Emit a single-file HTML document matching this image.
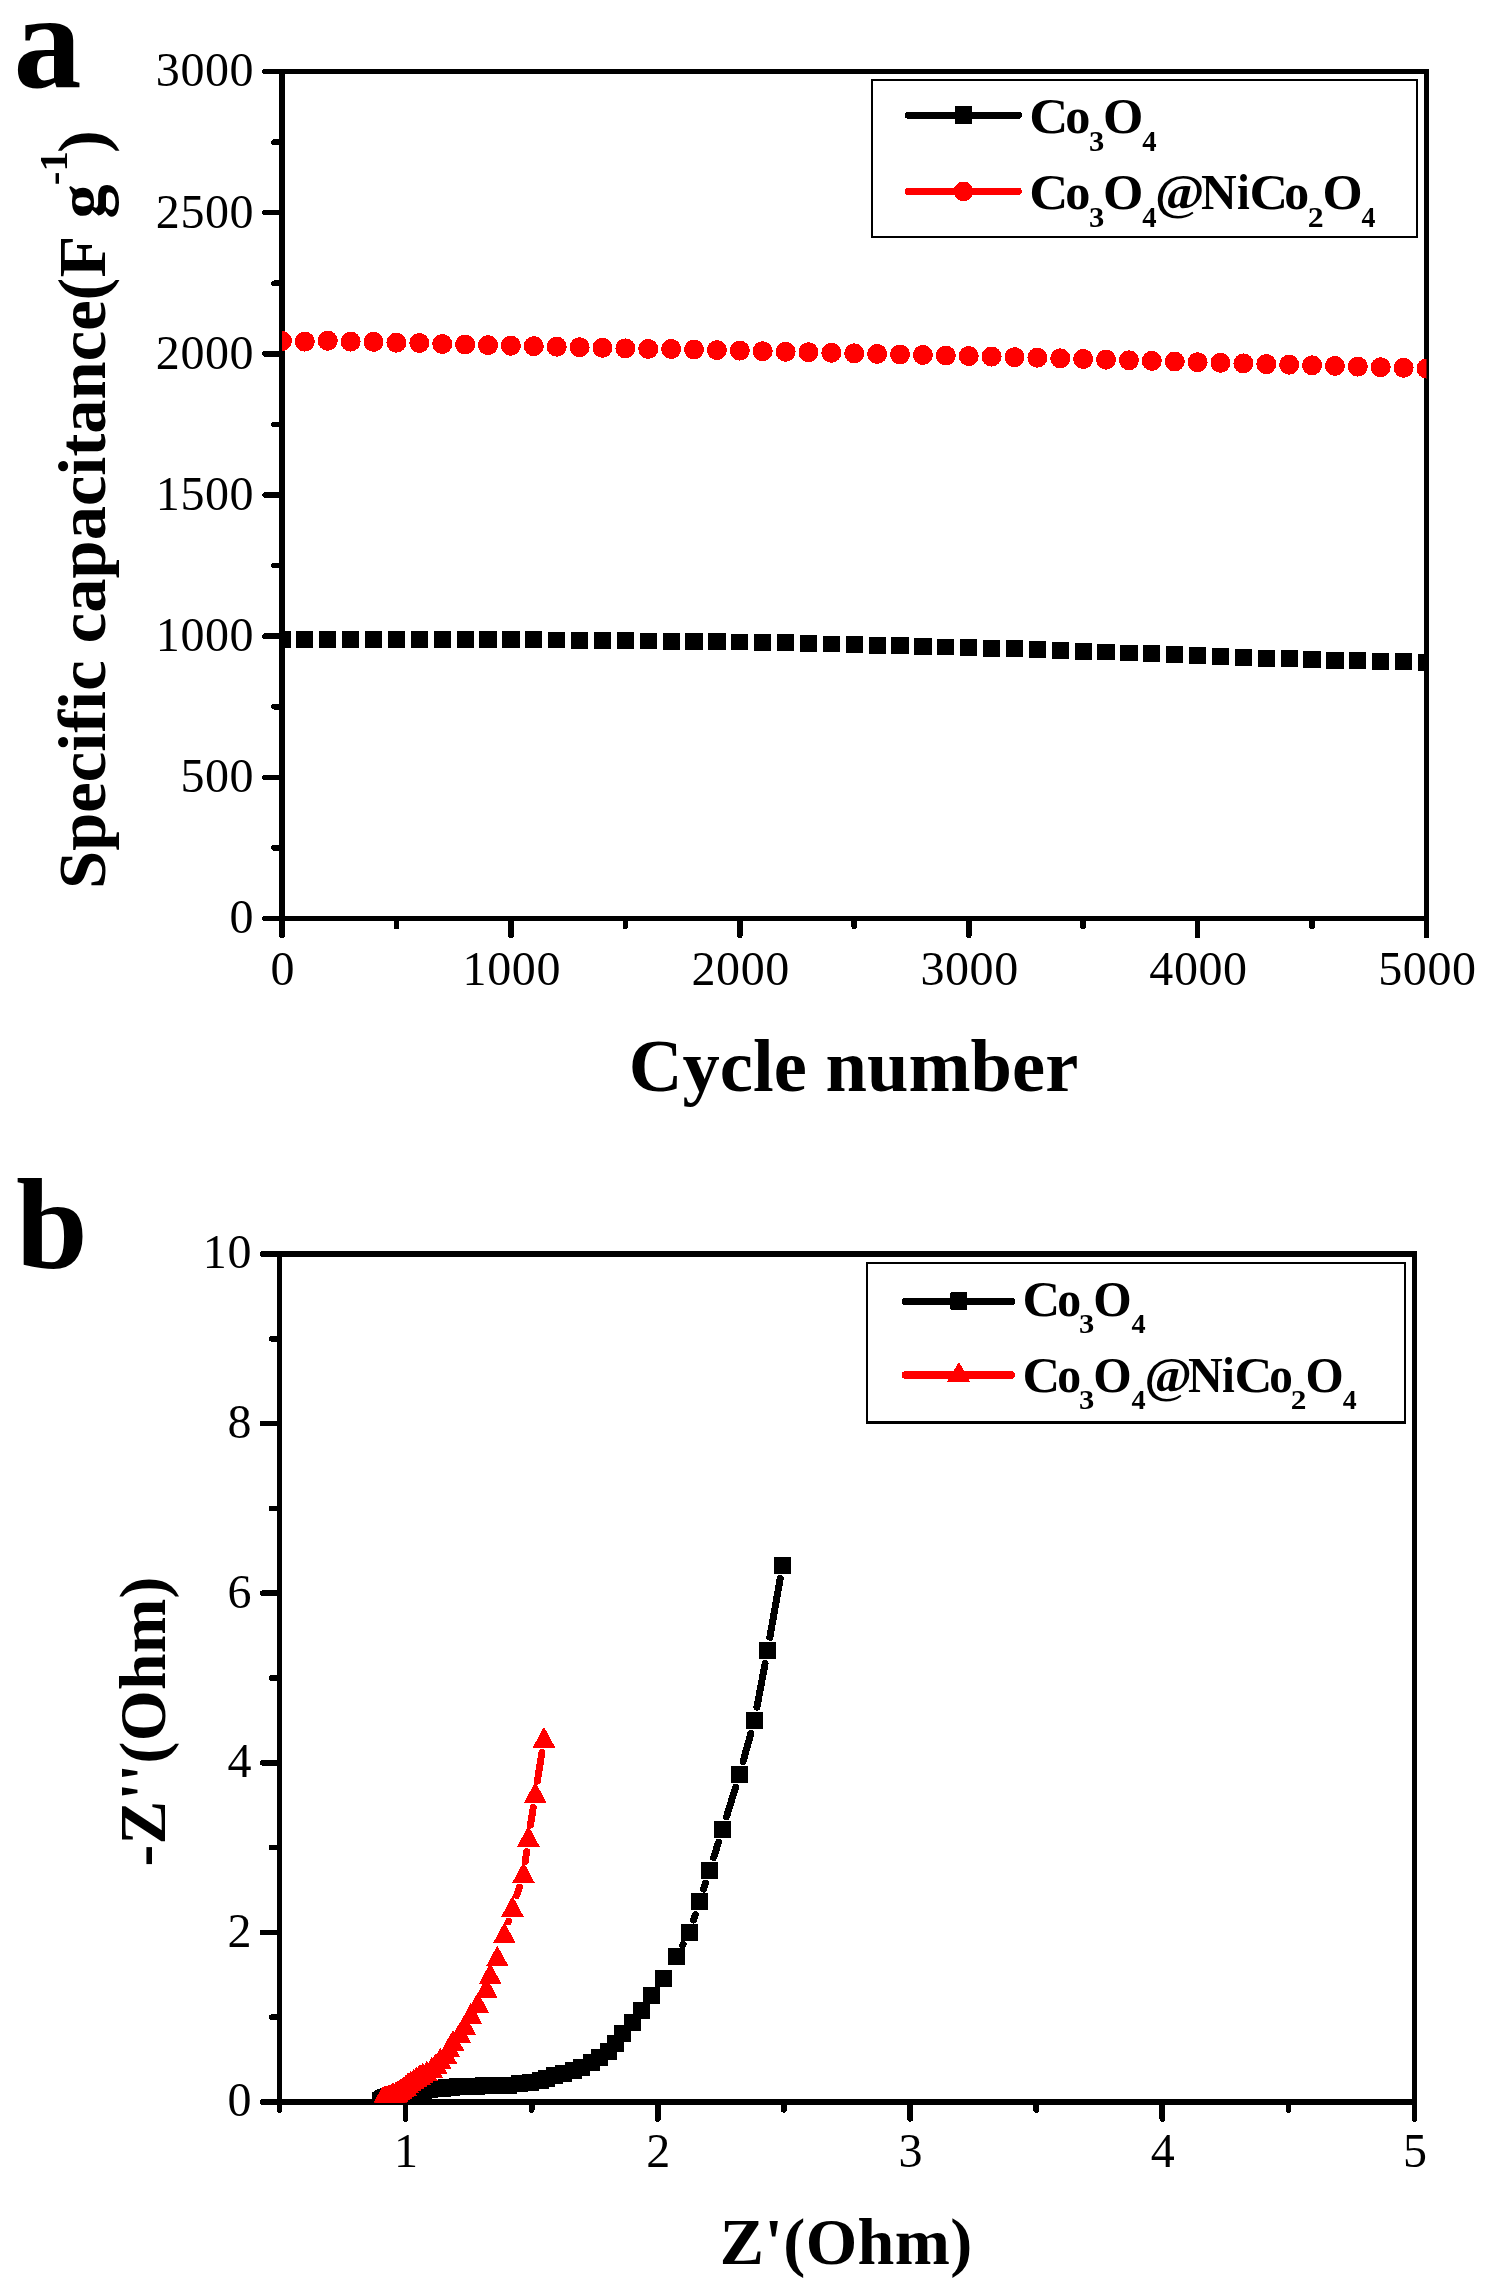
<!DOCTYPE html>
<html><head><meta charset="utf-8"><title>Figure</title>
<style>html,body{margin:0;padding:0;background:#fff;}svg{display:block;}text{font-family:"Liberation Serif", serif;fill:#000;font-variant-ligatures:none;font-kerning:none;}</style></head><body>
<svg width="1489" height="2292" viewBox="0 0 1489 2292" shape-rendering="crispEdges" style="will-change:transform">
<rect x="0" y="0" width="1489" height="2292" fill="#fff"/>
<defs><clipPath id="ca"><rect x="282.0" y="71.5" width="1144.5" height="847.0"/></clipPath><clipPath id="cb"><rect x="279.5" y="1254.0" width="1135.0" height="848.8"/></clipPath></defs>
<g id="chartA">
<rect x="282.0" y="71.5" width="1144.5" height="847.0" fill="none" stroke="#000" stroke-width="5.6"/>
<line x1="265.00" y1="918.50" x2="282.00" y2="918.50" stroke="#000" stroke-width="5.6" stroke-linecap="round" />
<line x1="274.00" y1="847.92" x2="282.00" y2="847.92" stroke="#000" stroke-width="5.6" stroke-linecap="round" />
<line x1="265.00" y1="777.33" x2="282.00" y2="777.33" stroke="#000" stroke-width="5.6" stroke-linecap="round" />
<line x1="274.00" y1="706.75" x2="282.00" y2="706.75" stroke="#000" stroke-width="5.6" stroke-linecap="round" />
<line x1="265.00" y1="636.17" x2="282.00" y2="636.17" stroke="#000" stroke-width="5.6" stroke-linecap="round" />
<line x1="274.00" y1="565.58" x2="282.00" y2="565.58" stroke="#000" stroke-width="5.6" stroke-linecap="round" />
<line x1="265.00" y1="495.00" x2="282.00" y2="495.00" stroke="#000" stroke-width="5.6" stroke-linecap="round" />
<line x1="274.00" y1="424.42" x2="282.00" y2="424.42" stroke="#000" stroke-width="5.6" stroke-linecap="round" />
<line x1="265.00" y1="353.83" x2="282.00" y2="353.83" stroke="#000" stroke-width="5.6" stroke-linecap="round" />
<line x1="274.00" y1="283.25" x2="282.00" y2="283.25" stroke="#000" stroke-width="5.6" stroke-linecap="round" />
<line x1="265.00" y1="212.67" x2="282.00" y2="212.67" stroke="#000" stroke-width="5.6" stroke-linecap="round" />
<line x1="274.00" y1="142.08" x2="282.00" y2="142.08" stroke="#000" stroke-width="5.6" stroke-linecap="round" />
<line x1="265.00" y1="71.50" x2="282.00" y2="71.50" stroke="#000" stroke-width="5.6" stroke-linecap="round" />
<line x1="282.00" y1="918.50" x2="282.00" y2="935.50" stroke="#000" stroke-width="5.6" stroke-linecap="round" />
<line x1="396.45" y1="918.50" x2="396.45" y2="926.50" stroke="#000" stroke-width="5.6" stroke-linecap="round" />
<line x1="510.90" y1="918.50" x2="510.90" y2="935.50" stroke="#000" stroke-width="5.6" stroke-linecap="round" />
<line x1="625.35" y1="918.50" x2="625.35" y2="926.50" stroke="#000" stroke-width="5.6" stroke-linecap="round" />
<line x1="739.80" y1="918.50" x2="739.80" y2="935.50" stroke="#000" stroke-width="5.6" stroke-linecap="round" />
<line x1="854.25" y1="918.50" x2="854.25" y2="926.50" stroke="#000" stroke-width="5.6" stroke-linecap="round" />
<line x1="968.70" y1="918.50" x2="968.70" y2="935.50" stroke="#000" stroke-width="5.6" stroke-linecap="round" />
<line x1="1083.15" y1="918.50" x2="1083.15" y2="926.50" stroke="#000" stroke-width="5.6" stroke-linecap="round" />
<line x1="1197.60" y1="918.50" x2="1197.60" y2="935.50" stroke="#000" stroke-width="5.6" stroke-linecap="round" />
<line x1="1312.05" y1="918.50" x2="1312.05" y2="926.50" stroke="#000" stroke-width="5.6" stroke-linecap="round" />
<line x1="1426.50" y1="918.50" x2="1426.50" y2="935.50" stroke="#000" stroke-width="5.6" stroke-linecap="round" />
<text x="254.20" y="933.40" font-size="48" text-anchor="end" font-weight="normal" letter-spacing="0.6">0</text>
<text x="254.20" y="792.23" font-size="48" text-anchor="end" font-weight="normal" letter-spacing="0.6">500</text>
<text x="254.20" y="651.07" font-size="48" text-anchor="end" font-weight="normal" letter-spacing="0.6">1000</text>
<text x="254.20" y="509.90" font-size="48" text-anchor="end" font-weight="normal" letter-spacing="0.6">1500</text>
<text x="254.20" y="368.73" font-size="48" text-anchor="end" font-weight="normal" letter-spacing="0.6">2000</text>
<text x="254.20" y="227.57" font-size="48" text-anchor="end" font-weight="normal" letter-spacing="0.6">2500</text>
<text x="254.20" y="86.40" font-size="48" text-anchor="end" font-weight="normal" letter-spacing="0.6">3000</text>
<text x="282.90" y="985.30" font-size="48" text-anchor="middle" font-weight="normal" letter-spacing="0.6">0</text>
<text x="511.80" y="985.30" font-size="48" text-anchor="middle" font-weight="normal" letter-spacing="0.6">1000</text>
<text x="740.70" y="985.30" font-size="48" text-anchor="middle" font-weight="normal" letter-spacing="0.6">2000</text>
<text x="969.60" y="985.30" font-size="48" text-anchor="middle" font-weight="normal" letter-spacing="0.6">3000</text>
<text x="1198.50" y="985.30" font-size="48" text-anchor="middle" font-weight="normal" letter-spacing="0.6">4000</text>
<text x="1427.40" y="985.30" font-size="48" text-anchor="middle" font-weight="normal" letter-spacing="0.6">5000</text>
<g clip-path="url(#ca)">
<rect x="273.40" y="630.80" width="17.2" height="16.8" fill="#000"/>
<rect x="296.29" y="630.82" width="17.2" height="16.8" fill="#000"/>
<rect x="319.18" y="630.84" width="17.2" height="16.8" fill="#000"/>
<rect x="342.07" y="630.86" width="17.2" height="16.8" fill="#000"/>
<rect x="364.96" y="630.88" width="17.2" height="16.8" fill="#000"/>
<rect x="387.85" y="630.90" width="17.2" height="16.8" fill="#000"/>
<rect x="410.74" y="630.92" width="17.2" height="16.8" fill="#000"/>
<rect x="433.63" y="630.94" width="17.2" height="16.8" fill="#000"/>
<rect x="456.52" y="630.96" width="17.2" height="16.8" fill="#000"/>
<rect x="479.41" y="630.98" width="17.2" height="16.8" fill="#000"/>
<rect x="502.30" y="631.00" width="17.2" height="16.8" fill="#000"/>
<rect x="525.19" y="631.26" width="17.2" height="16.8" fill="#000"/>
<rect x="548.08" y="631.51" width="17.2" height="16.8" fill="#000"/>
<rect x="570.97" y="631.77" width="17.2" height="16.8" fill="#000"/>
<rect x="593.86" y="632.03" width="17.2" height="16.8" fill="#000"/>
<rect x="616.75" y="632.29" width="17.2" height="16.8" fill="#000"/>
<rect x="639.64" y="632.54" width="17.2" height="16.8" fill="#000"/>
<rect x="662.53" y="632.80" width="17.2" height="16.8" fill="#000"/>
<rect x="685.42" y="633.05" width="17.2" height="16.8" fill="#000"/>
<rect x="708.31" y="633.30" width="17.2" height="16.8" fill="#000"/>
<rect x="731.20" y="633.55" width="17.2" height="16.8" fill="#000"/>
<rect x="754.09" y="633.80" width="17.2" height="16.8" fill="#000"/>
<rect x="776.98" y="634.38" width="17.2" height="16.8" fill="#000"/>
<rect x="799.87" y="634.95" width="17.2" height="16.8" fill="#000"/>
<rect x="822.76" y="635.52" width="17.2" height="16.8" fill="#000"/>
<rect x="845.65" y="636.10" width="17.2" height="16.8" fill="#000"/>
<rect x="868.54" y="636.70" width="17.2" height="16.8" fill="#000"/>
<rect x="891.43" y="637.30" width="17.2" height="16.8" fill="#000"/>
<rect x="914.32" y="637.90" width="17.2" height="16.8" fill="#000"/>
<rect x="937.21" y="638.50" width="17.2" height="16.8" fill="#000"/>
<rect x="960.10" y="639.10" width="17.2" height="16.8" fill="#000"/>
<rect x="982.99" y="639.70" width="17.2" height="16.8" fill="#000"/>
<rect x="1005.88" y="640.30" width="17.2" height="16.8" fill="#000"/>
<rect x="1028.77" y="640.90" width="17.2" height="16.8" fill="#000"/>
<rect x="1051.66" y="641.80" width="17.2" height="16.8" fill="#000"/>
<rect x="1074.55" y="642.70" width="17.2" height="16.8" fill="#000"/>
<rect x="1097.44" y="643.60" width="17.2" height="16.8" fill="#000"/>
<rect x="1120.33" y="644.50" width="17.2" height="16.8" fill="#000"/>
<rect x="1143.22" y="645.40" width="17.2" height="16.8" fill="#000"/>
<rect x="1166.11" y="646.30" width="17.2" height="16.8" fill="#000"/>
<rect x="1189.00" y="647.20" width="17.2" height="16.8" fill="#000"/>
<rect x="1211.89" y="648.10" width="17.2" height="16.8" fill="#000"/>
<rect x="1234.78" y="649.00" width="17.2" height="16.8" fill="#000"/>
<rect x="1257.67" y="649.73" width="17.2" height="16.8" fill="#000"/>
<rect x="1280.56" y="650.45" width="17.2" height="16.8" fill="#000"/>
<rect x="1303.45" y="651.17" width="17.2" height="16.8" fill="#000"/>
<rect x="1326.34" y="651.90" width="17.2" height="16.8" fill="#000"/>
<rect x="1349.23" y="652.40" width="17.2" height="16.8" fill="#000"/>
<rect x="1372.12" y="652.90" width="17.2" height="16.8" fill="#000"/>
<rect x="1395.01" y="653.40" width="17.2" height="16.8" fill="#000"/>
<rect x="1417.90" y="653.90" width="17.2" height="16.8" fill="#000"/>
<circle cx="282.00" cy="341.00" r="10.0" fill="#ff0000"/>
<circle cx="304.89" cy="341.60" r="10.0" fill="#ff0000"/>
<circle cx="327.78" cy="340.80" r="10.0" fill="#ff0000"/>
<circle cx="350.67" cy="341.60" r="10.0" fill="#ff0000"/>
<circle cx="373.56" cy="341.90" r="10.0" fill="#ff0000"/>
<circle cx="396.45" cy="342.70" r="10.0" fill="#ff0000"/>
<circle cx="419.34" cy="343.00" r="10.0" fill="#ff0000"/>
<circle cx="442.23" cy="344.00" r="10.0" fill="#ff0000"/>
<circle cx="465.12" cy="344.54" r="10.0" fill="#ff0000"/>
<circle cx="488.01" cy="345.09" r="10.0" fill="#ff0000"/>
<circle cx="510.90" cy="345.63" r="10.0" fill="#ff0000"/>
<circle cx="533.79" cy="346.18" r="10.0" fill="#ff0000"/>
<circle cx="556.68" cy="346.72" r="10.0" fill="#ff0000"/>
<circle cx="579.57" cy="347.27" r="10.0" fill="#ff0000"/>
<circle cx="602.46" cy="347.81" r="10.0" fill="#ff0000"/>
<circle cx="625.35" cy="348.36" r="10.0" fill="#ff0000"/>
<circle cx="648.24" cy="348.90" r="10.0" fill="#ff0000"/>
<circle cx="671.13" cy="349.00" r="10.0" fill="#ff0000"/>
<circle cx="694.02" cy="349.54" r="10.0" fill="#ff0000"/>
<circle cx="716.91" cy="350.09" r="10.0" fill="#ff0000"/>
<circle cx="739.80" cy="350.63" r="10.0" fill="#ff0000"/>
<circle cx="762.69" cy="351.18" r="10.0" fill="#ff0000"/>
<circle cx="785.58" cy="351.72" r="10.0" fill="#ff0000"/>
<circle cx="808.47" cy="352.26" r="10.0" fill="#ff0000"/>
<circle cx="831.36" cy="352.81" r="10.0" fill="#ff0000"/>
<circle cx="854.25" cy="353.35" r="10.0" fill="#ff0000"/>
<circle cx="877.14" cy="353.89" r="10.0" fill="#ff0000"/>
<circle cx="900.03" cy="354.44" r="10.0" fill="#ff0000"/>
<circle cx="922.92" cy="354.98" r="10.0" fill="#ff0000"/>
<circle cx="945.81" cy="355.52" r="10.0" fill="#ff0000"/>
<circle cx="968.70" cy="356.07" r="10.0" fill="#ff0000"/>
<circle cx="991.59" cy="356.61" r="10.0" fill="#ff0000"/>
<circle cx="1014.48" cy="357.16" r="10.0" fill="#ff0000"/>
<circle cx="1037.37" cy="357.70" r="10.0" fill="#ff0000"/>
<circle cx="1060.26" cy="358.34" r="10.0" fill="#ff0000"/>
<circle cx="1083.15" cy="358.97" r="10.0" fill="#ff0000"/>
<circle cx="1106.04" cy="359.61" r="10.0" fill="#ff0000"/>
<circle cx="1128.93" cy="360.24" r="10.0" fill="#ff0000"/>
<circle cx="1151.82" cy="360.88" r="10.0" fill="#ff0000"/>
<circle cx="1174.71" cy="361.51" r="10.0" fill="#ff0000"/>
<circle cx="1197.60" cy="362.15" r="10.0" fill="#ff0000"/>
<circle cx="1220.49" cy="362.78" r="10.0" fill="#ff0000"/>
<circle cx="1243.38" cy="363.42" r="10.0" fill="#ff0000"/>
<circle cx="1266.27" cy="364.05" r="10.0" fill="#ff0000"/>
<circle cx="1289.16" cy="364.69" r="10.0" fill="#ff0000"/>
<circle cx="1312.05" cy="365.32" r="10.0" fill="#ff0000"/>
<circle cx="1334.94" cy="365.96" r="10.0" fill="#ff0000"/>
<circle cx="1357.83" cy="366.59" r="10.0" fill="#ff0000"/>
<circle cx="1380.72" cy="367.23" r="10.0" fill="#ff0000"/>
<circle cx="1403.61" cy="367.86" r="10.0" fill="#ff0000"/>
<circle cx="1426.50" cy="368.50" r="10.0" fill="#ff0000"/>
</g>
<rect x="872" y="80" width="545" height="157" fill="#fff" stroke="#000" stroke-width="2"/>
<line x1="908.50" y1="115.40" x2="1018.40" y2="115.40" stroke="#000" stroke-width="7.1" stroke-linecap="round" />
<rect x="955.0" y="105.9" width="17.1" height="18.0" fill="#000"/>
<line x1="908.50" y1="191.50" x2="1018.40" y2="191.50" stroke="#ff0000" stroke-width="7.1" stroke-linecap="round" />
<circle cx="963.5" cy="191.4" r="9.8" fill="#ff0000"/>
<text transform="translate(1029.36 133.00) scale(1.061 1)" font-size="51" font-weight="bold">C</text>
<text transform="translate(1065.19 133.00) scale(0.985 1)" font-size="51" font-weight="bold">o</text>
<text transform="translate(1088.95 151.20) scale(1.020 1)" font-size="30" font-weight="bold">3</text>
<text transform="translate(1103.07 133.00) scale(1.018 1)" font-size="51" font-weight="bold">O</text>
<text transform="translate(1142.21 151.20) scale(0.955 1)" font-size="30" font-weight="bold">4</text>
<text transform="translate(1029.36 208.70) scale(1.061 1)" font-size="51" font-weight="bold">C</text>
<text transform="translate(1065.19 208.70) scale(0.985 1)" font-size="51" font-weight="bold">o</text>
<text transform="translate(1088.95 226.90) scale(1.020 1)" font-size="30" font-weight="bold">3</text>
<text transform="translate(1103.07 208.70) scale(1.018 1)" font-size="51" font-weight="bold">O</text>
<text transform="translate(1142.21 226.90) scale(0.955 1)" font-size="30" font-weight="bold">4</text>
<text transform="translate(1154.92 208.70) scale(1.045 1)" font-size="51" font-weight="bold">@</text>
<text transform="translate(1201.06 208.70) scale(0.969 1)" font-size="51" font-weight="bold">N</text>
<text transform="translate(1237.09 208.70) scale(0.902 1)" font-size="51" font-weight="bold">i</text>
<text transform="translate(1249.39 208.70) scale(1.047 1)" font-size="51" font-weight="bold">C</text>
<text transform="translate(1284.30 208.70) scale(0.976 1)" font-size="51" font-weight="bold">o</text>
<text transform="translate(1307.66 226.90) scale(1.060 1)" font-size="30" font-weight="bold">2</text>
<text transform="translate(1322.38 208.70) scale(1.012 1)" font-size="51" font-weight="bold">O</text>
<text transform="translate(1361.52 226.90) scale(0.927 1)" font-size="30" font-weight="bold">4</text>
<text x="853.50" y="1090.60" font-size="74.5" text-anchor="middle" font-weight="bold" letter-spacing="0.05">Cycle number</text>
<text transform="translate(104.7 889.0) rotate(-90)" font-size="68.6" font-weight="bold">Specific capacitance(F g<tspan font-size="41" dy="-38" dx="-1">-1</tspan><tspan dy="38" dx="-2">)</tspan></text>
<text x="13.50" y="87.00" font-size="136" text-anchor="start" font-weight="bold" >a</text>
</g>
<g id="chartB">
<rect x="279.5" y="1254.0" width="1135.0" height="848.0" fill="none" stroke="#000" stroke-width="5.6"/>
<line x1="262.50" y1="2102.00" x2="279.50" y2="2102.00" stroke="#000" stroke-width="5.6" stroke-linecap="round" />
<line x1="271.50" y1="2017.20" x2="279.50" y2="2017.20" stroke="#000" stroke-width="5.6" stroke-linecap="round" />
<line x1="262.50" y1="1932.40" x2="279.50" y2="1932.40" stroke="#000" stroke-width="5.6" stroke-linecap="round" />
<line x1="271.50" y1="1847.60" x2="279.50" y2="1847.60" stroke="#000" stroke-width="5.6" stroke-linecap="round" />
<line x1="262.50" y1="1762.80" x2="279.50" y2="1762.80" stroke="#000" stroke-width="5.6" stroke-linecap="round" />
<line x1="271.50" y1="1678.00" x2="279.50" y2="1678.00" stroke="#000" stroke-width="5.6" stroke-linecap="round" />
<line x1="262.50" y1="1593.20" x2="279.50" y2="1593.20" stroke="#000" stroke-width="5.6" stroke-linecap="round" />
<line x1="271.50" y1="1508.40" x2="279.50" y2="1508.40" stroke="#000" stroke-width="5.6" stroke-linecap="round" />
<line x1="262.50" y1="1423.60" x2="279.50" y2="1423.60" stroke="#000" stroke-width="5.6" stroke-linecap="round" />
<line x1="271.50" y1="1338.80" x2="279.50" y2="1338.80" stroke="#000" stroke-width="5.6" stroke-linecap="round" />
<line x1="262.50" y1="1254.00" x2="279.50" y2="1254.00" stroke="#000" stroke-width="5.6" stroke-linecap="round" />
<line x1="279.50" y1="2102.00" x2="279.50" y2="2110.00" stroke="#000" stroke-width="5.6" stroke-linecap="round" />
<line x1="405.61" y1="2102.00" x2="405.61" y2="2119.00" stroke="#000" stroke-width="5.6" stroke-linecap="round" />
<line x1="531.72" y1="2102.00" x2="531.72" y2="2110.00" stroke="#000" stroke-width="5.6" stroke-linecap="round" />
<line x1="657.83" y1="2102.00" x2="657.83" y2="2119.00" stroke="#000" stroke-width="5.6" stroke-linecap="round" />
<line x1="783.94" y1="2102.00" x2="783.94" y2="2110.00" stroke="#000" stroke-width="5.6" stroke-linecap="round" />
<line x1="910.06" y1="2102.00" x2="910.06" y2="2119.00" stroke="#000" stroke-width="5.6" stroke-linecap="round" />
<line x1="1036.17" y1="2102.00" x2="1036.17" y2="2110.00" stroke="#000" stroke-width="5.6" stroke-linecap="round" />
<line x1="1162.28" y1="2102.00" x2="1162.28" y2="2119.00" stroke="#000" stroke-width="5.6" stroke-linecap="round" />
<line x1="1288.39" y1="2102.00" x2="1288.39" y2="2110.00" stroke="#000" stroke-width="5.6" stroke-linecap="round" />
<line x1="1414.50" y1="2102.00" x2="1414.50" y2="2119.00" stroke="#000" stroke-width="5.6" stroke-linecap="round" />
<text x="252.00" y="2116.30" font-size="48" text-anchor="end" font-weight="normal" letter-spacing="0.6">0</text>
<text x="252.00" y="1946.70" font-size="48" text-anchor="end" font-weight="normal" letter-spacing="0.6">2</text>
<text x="252.00" y="1777.10" font-size="48" text-anchor="end" font-weight="normal" letter-spacing="0.6">4</text>
<text x="252.00" y="1607.50" font-size="48" text-anchor="end" font-weight="normal" letter-spacing="0.6">6</text>
<text x="252.00" y="1437.90" font-size="48" text-anchor="end" font-weight="normal" letter-spacing="0.6">8</text>
<text x="252.00" y="1268.30" font-size="48" text-anchor="end" font-weight="normal" letter-spacing="0.6">10</text>
<text x="406.01" y="2166.80" font-size="48" text-anchor="middle" font-weight="normal" >1</text>
<text x="658.23" y="2166.80" font-size="48" text-anchor="middle" font-weight="normal" >2</text>
<text x="910.46" y="2166.80" font-size="48" text-anchor="middle" font-weight="normal" >3</text>
<text x="1162.68" y="2166.80" font-size="48" text-anchor="middle" font-weight="normal" >4</text>
<text x="1414.90" y="2166.80" font-size="48" text-anchor="middle" font-weight="normal" >5</text>
<g clip-path="url(#cb)">
<line x1="780.17" y1="1578.70" x2="769.83" y2="1637.30" stroke="#000" stroke-width="7.0" stroke-linecap="round" />
<line x1="765.05" y1="1663.67" x2="756.95" y2="1707.13" stroke="#000" stroke-width="7.0" stroke-linecap="round" />
<line x1="750.93" y1="1733.21" x2="743.07" y2="1761.59" stroke="#000" stroke-width="7.0" stroke-linecap="round" />
<line x1="735.56" y1="1787.31" x2="726.54" y2="1816.69" stroke="#000" stroke-width="7.0" stroke-linecap="round" />
<line x1="718.51" y1="1842.26" x2="713.59" y2="1857.64" stroke="#000" stroke-width="7.0" stroke-linecap="round" />
<line x1="705.45" y1="1883.17" x2="703.55" y2="1889.13" stroke="#000" stroke-width="7.0" stroke-linecap="round" />
<line x1="695.34" y1="1914.64" x2="693.56" y2="1920.06" stroke="#000" stroke-width="7.0" stroke-linecap="round" />
<line x1="683.08" y1="1944.61" x2="682.82" y2="1945.09" stroke="#000" stroke-width="7.0" stroke-linecap="round" />
<rect x="774.00" y="1557.00" width="17" height="17" fill="#000"/>
<rect x="759.00" y="1642.00" width="17" height="17" fill="#000"/>
<rect x="746.00" y="1711.80" width="17" height="17" fill="#000"/>
<rect x="731.00" y="1766.00" width="17" height="17" fill="#000"/>
<rect x="714.10" y="1821.00" width="17" height="17" fill="#000"/>
<rect x="701.00" y="1861.90" width="17" height="17" fill="#000"/>
<rect x="691.00" y="1893.40" width="17" height="17" fill="#000"/>
<rect x="680.90" y="1924.30" width="17" height="17" fill="#000"/>
<rect x="668.00" y="1948.40" width="17" height="17" fill="#000"/>
<rect x="655.10" y="1969.50" width="17" height="17" fill="#000"/>
<rect x="643.10" y="1986.70" width="17" height="17" fill="#000"/>
<rect x="633.00" y="2001.80" width="17" height="17" fill="#000"/>
<rect x="623.90" y="2014.30" width="17" height="17" fill="#000"/>
<rect x="613.80" y="2025.30" width="17" height="17" fill="#000"/>
<rect x="606.70" y="2034.80" width="17" height="17" fill="#000"/>
<rect x="599.60" y="2042.50" width="17" height="17" fill="#000"/>
<rect x="590.60" y="2048.50" width="17" height="17" fill="#000"/>
<rect x="582.50" y="2053.60" width="17" height="17" fill="#000"/>
<rect x="573.40" y="2058.60" width="17" height="17" fill="#000"/>
<rect x="565.40" y="2062.20" width="17" height="17" fill="#000"/>
<rect x="555.30" y="2064.60" width="17" height="17" fill="#000"/>
<rect x="545.80" y="2067.30" width="17" height="17" fill="#000"/>
<rect x="538.20" y="2070.10" width="17" height="17" fill="#000"/>
<rect x="532.10" y="2071.70" width="17" height="17" fill="#000"/>
<rect x="522.10" y="2073.70" width="17" height="17" fill="#000"/>
<rect x="511.00" y="2075.30" width="17" height="17" fill="#000"/>
<rect x="499.90" y="2076.70" width="17" height="17" fill="#000"/>
<rect x="490.90" y="2076.99" width="17" height="17" fill="#000"/>
<rect x="482.53" y="2077.27" width="17" height="17" fill="#000"/>
<rect x="474.75" y="2077.45" width="17" height="17" fill="#000"/>
<rect x="467.51" y="2077.61" width="17" height="17" fill="#000"/>
<rect x="460.77" y="2077.85" width="17" height="17" fill="#000"/>
<rect x="454.51" y="2078.18" width="17" height="17" fill="#000"/>
<rect x="448.69" y="2078.48" width="17" height="17" fill="#000"/>
<rect x="443.27" y="2078.86" width="17" height="17" fill="#000"/>
<rect x="438.24" y="2079.26" width="17" height="17" fill="#000"/>
<rect x="433.55" y="2079.63" width="17" height="17" fill="#000"/>
<rect x="429.20" y="2080.03" width="17" height="17" fill="#000"/>
<rect x="425.15" y="2080.46" width="17" height="17" fill="#000"/>
<rect x="421.38" y="2080.86" width="17" height="17" fill="#000"/>
<rect x="417.88" y="2081.23" width="17" height="17" fill="#000"/>
<rect x="414.62" y="2081.61" width="17" height="17" fill="#000"/>
<rect x="411.59" y="2081.99" width="17" height="17" fill="#000"/>
<rect x="408.77" y="2082.34" width="17" height="17" fill="#000"/>
<rect x="406.15" y="2082.67" width="17" height="17" fill="#000"/>
<rect x="403.71" y="2082.97" width="17" height="17" fill="#000"/>
<rect x="401.44" y="2083.34" width="17" height="17" fill="#000"/>
<rect x="399.34" y="2083.69" width="17" height="17" fill="#000"/>
<rect x="397.38" y="2084.02" width="17" height="17" fill="#000"/>
<rect x="395.55" y="2084.32" width="17" height="17" fill="#000"/>
<rect x="393.86" y="2084.61" width="17" height="17" fill="#000"/>
<rect x="392.28" y="2084.87" width="17" height="17" fill="#000"/>
<rect x="390.81" y="2085.17" width="17" height="17" fill="#000"/>
<rect x="389.41" y="2085.52" width="17" height="17" fill="#000"/>
<rect x="388.01" y="2085.87" width="17" height="17" fill="#000"/>
<rect x="386.61" y="2086.22" width="17" height="17" fill="#000"/>
<rect x="385.21" y="2086.57" width="17" height="17" fill="#000"/>
<rect x="383.81" y="2086.92" width="17" height="17" fill="#000"/>
<rect x="382.41" y="2087.27" width="17" height="17" fill="#000"/>
<rect x="381.01" y="2087.69" width="17" height="17" fill="#000"/>
<rect x="379.61" y="2088.25" width="17" height="17" fill="#000"/>
<rect x="378.21" y="2088.81" width="17" height="17" fill="#000"/>
<rect x="376.81" y="2089.37" width="17" height="17" fill="#000"/>
<rect x="375.41" y="2090.12" width="17" height="17" fill="#000"/>
<rect x="374.01" y="2090.91" width="17" height="17" fill="#000"/>
<rect x="372.61" y="2091.71" width="17" height="17" fill="#000"/>
<rect x="372.10" y="2092.00" width="17" height="17" fill="#000"/>
<line x1="541.91" y1="1752.54" x2="537.39" y2="1781.06" stroke="#ff0000" stroke-width="7.0" stroke-linecap="round" />
<line x1="533.22" y1="1807.54" x2="530.48" y2="1825.06" stroke="#ff0000" stroke-width="7.0" stroke-linecap="round" />
<line x1="526.60" y1="1851.58" x2="525.30" y2="1861.22" stroke="#ff0000" stroke-width="7.0" stroke-linecap="round" />
<line x1="519.36" y1="1887.25" x2="516.64" y2="1895.65" stroke="#ff0000" stroke-width="7.0" stroke-linecap="round" />
<line x1="508.56" y1="1921.21" x2="508.34" y2="1921.89" stroke="#ff0000" stroke-width="7.0" stroke-linecap="round" />
<path d="M382.20 2086.80 L393.40 2107.60 L371.00 2107.60 Z" fill="#ff0000"/>
<path d="M383.31 2086.41 L394.51 2107.21 L372.11 2107.21 Z" fill="#ff0000"/>
<path d="M384.61 2085.95 L395.81 2106.75 L373.41 2106.75 Z" fill="#ff0000"/>
<path d="M385.91 2085.49 L397.11 2106.29 L374.71 2106.29 Z" fill="#ff0000"/>
<path d="M387.21 2085.03 L398.41 2105.83 L376.01 2105.83 Z" fill="#ff0000"/>
<path d="M388.51 2084.57 L399.71 2105.37 L377.31 2105.37 Z" fill="#ff0000"/>
<path d="M389.81 2084.10 L401.01 2104.90 L378.61 2104.90 Z" fill="#ff0000"/>
<path d="M391.11 2083.62 L402.31 2104.42 L379.91 2104.42 Z" fill="#ff0000"/>
<path d="M392.49 2083.11 L403.69 2103.91 L381.29 2103.91 Z" fill="#ff0000"/>
<path d="M393.98 2082.56 L405.18 2103.36 L382.78 2103.36 Z" fill="#ff0000"/>
<path d="M395.57 2081.95 L406.77 2102.75 L384.37 2102.75 Z" fill="#ff0000"/>
<path d="M397.29 2080.79 L408.49 2101.59 L386.09 2101.59 Z" fill="#ff0000"/>
<path d="M399.14 2079.54 L410.34 2100.34 L387.94 2100.34 Z" fill="#ff0000"/>
<path d="M401.12 2078.12 L412.32 2098.92 L389.92 2098.92 Z" fill="#ff0000"/>
<path d="M403.26 2076.57 L414.46 2097.37 L392.06 2097.37 Z" fill="#ff0000"/>
<path d="M405.55 2074.74 L416.75 2095.54 L394.35 2095.54 Z" fill="#ff0000"/>
<path d="M408.02 2072.52 L419.22 2093.32 L396.82 2093.32 Z" fill="#ff0000"/>
<path d="M410.68 2070.60 L421.88 2091.40 L399.48 2091.40 Z" fill="#ff0000"/>
<path d="M413.53 2068.68 L424.73 2089.48 L402.33 2089.48 Z" fill="#ff0000"/>
<path d="M416.60 2066.38 L427.80 2087.17 L405.40 2087.17 Z" fill="#ff0000"/>
<path d="M419.90 2063.90 L431.10 2084.70 L408.70 2084.70 Z" fill="#ff0000"/>
<path d="M422.60 2062.60 L433.80 2083.40 L411.40 2083.40 Z" fill="#ff0000"/>
<path d="M426.80 2060.60 L438.00 2081.40 L415.60 2081.40 Z" fill="#ff0000"/>
<path d="M431.80 2056.70 L443.00 2077.50 L420.60 2077.50 Z" fill="#ff0000"/>
<path d="M436.00 2052.70 L447.20 2073.50 L424.80 2073.50 Z" fill="#ff0000"/>
<path d="M440.30 2047.80 L451.50 2068.60 L429.10 2068.60 Z" fill="#ff0000"/>
<path d="M445.90 2042.70 L457.10 2063.50 L434.70 2063.50 Z" fill="#ff0000"/>
<path d="M449.00 2036.60 L460.20 2057.40 L437.80 2057.40 Z" fill="#ff0000"/>
<path d="M453.00 2029.80 L464.20 2050.60 L441.80 2050.60 Z" fill="#ff0000"/>
<path d="M459.90 2022.00 L471.10 2042.80 L448.70 2042.80 Z" fill="#ff0000"/>
<path d="M464.80 2014.00 L476.00 2034.80 L453.60 2034.80 Z" fill="#ff0000"/>
<path d="M470.80 2002.90 L482.00 2023.70 L459.60 2023.70 Z" fill="#ff0000"/>
<path d="M477.90 1992.00 L489.10 2012.80 L466.70 2012.80 Z" fill="#ff0000"/>
<path d="M486.50 1977.10 L497.70 1997.90 L475.30 1997.90 Z" fill="#ff0000"/>
<path d="M490.20 1962.80 L501.40 1983.60 L479.00 1983.60 Z" fill="#ff0000"/>
<path d="M497.30 1945.40 L508.50 1966.20 L486.10 1966.20 Z" fill="#ff0000"/>
<path d="M504.40 1922.10 L515.60 1942.90 L493.20 1942.90 Z" fill="#ff0000"/>
<path d="M512.50 1895.80 L523.70 1916.60 L501.30 1916.60 Z" fill="#ff0000"/>
<path d="M523.50 1861.90 L534.70 1882.70 L512.30 1882.70 Z" fill="#ff0000"/>
<path d="M528.40 1825.70 L539.60 1846.50 L517.20 1846.50 Z" fill="#ff0000"/>
<path d="M535.30 1781.70 L546.50 1802.50 L524.10 1802.50 Z" fill="#ff0000"/>
<path d="M544.00 1726.70 L555.20 1747.50 L532.80 1747.50 Z" fill="#ff0000"/>
</g>
<rect x="867" y="1263" width="538" height="159.4" fill="#fff" stroke="#000" stroke-width="2.2"/>
<line x1="905.40" y1="1301.50" x2="1011.40" y2="1301.50" stroke="#000" stroke-width="7.2" stroke-linecap="round" />
<rect x="950.0" y="1291.9" width="17.1" height="18.2" rx="2.2" fill="#000"/>
<line x1="905.40" y1="1375.00" x2="1011.40" y2="1375.00" stroke="#ff0000" stroke-width="7.6" stroke-linecap="round" />
<path d="M959 1361.8 L970.2 1382 L946.8 1382 Z" fill="#ff0000"/>
<text transform="translate(1022.46 1316.00) scale(1.021 1)" font-size="51" font-weight="bold">C</text>
<text transform="translate(1057.18 1316.00) scale(0.935 1)" font-size="51" font-weight="bold">o</text>
<text transform="translate(1078.95 1332.80) scale(1.093 1)" font-size="28" font-weight="bold">3</text>
<text transform="translate(1093.19 1316.00) scale(0.969 1)" font-size="51" font-weight="bold">O</text>
<text transform="translate(1131.61 1332.80) scale(1.008 1)" font-size="28" font-weight="bold">4</text>
<text transform="translate(1022.46 1392.00) scale(1.021 1)" font-size="51" font-weight="bold">C</text>
<text transform="translate(1057.18 1392.00) scale(0.935 1)" font-size="51" font-weight="bold">o</text>
<text transform="translate(1078.95 1408.80) scale(1.093 1)" font-size="28" font-weight="bold">3</text>
<text transform="translate(1093.19 1392.00) scale(0.969 1)" font-size="51" font-weight="bold">O</text>
<text transform="translate(1131.61 1408.80) scale(1.008 1)" font-size="28" font-weight="bold">4</text>
<text transform="translate(1144.44 1392.00) scale(1.000 1)" font-size="51" font-weight="bold">@</text>
<text transform="translate(1187.99 1392.00) scale(0.943 1)" font-size="51" font-weight="bold">N</text>
<text transform="translate(1222.09 1392.00) scale(0.902 1)" font-size="51" font-weight="bold">i</text>
<text transform="translate(1234.44 1392.00) scale(1.028 1)" font-size="51" font-weight="bold">C</text>
<text transform="translate(1269.20 1392.00) scale(0.925 1)" font-size="51" font-weight="bold">o</text>
<text transform="translate(1290.68 1408.80) scale(1.119 1)" font-size="28" font-weight="bold">2</text>
<text transform="translate(1305.60 1392.00) scale(0.963 1)" font-size="51" font-weight="bold">O</text>
<text transform="translate(1342.72 1408.80) scale(0.993 1)" font-size="28" font-weight="bold">4</text>
<text x="846.30" y="2264.00" font-size="66.2" text-anchor="middle" font-weight="bold" letter-spacing="0.4">Z'(Ohm)</text>
<text transform="translate(164.8 1866.5) rotate(-90)" font-size="65.5" font-weight="bold" letter-spacing="0.3">-Z''(Ohm)</text>
<text x="16.00" y="1268.20" font-size="129" text-anchor="start" font-weight="bold" >b</text>
</g>
</svg></body></html>
